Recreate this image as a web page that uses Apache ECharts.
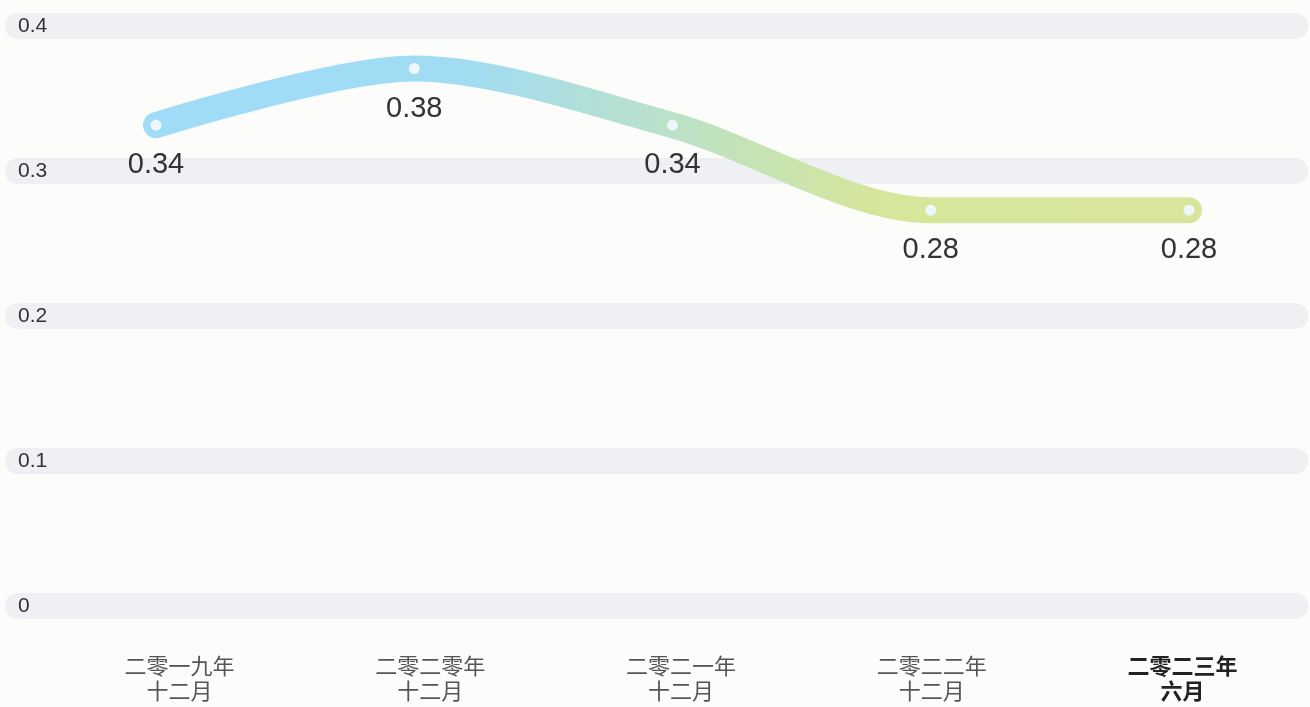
<!DOCTYPE html>
<html>
<head>
<meta charset="utf-8">
<script src="https://cdn.jsdelivr.net/npm/echarts@6/dist/echarts.min.js"></script>
<style>
  html, body { margin: 0; padding: 0; background: #fcfcfb; }
  #chart { width: 1310px; height: 707px; }
</style>
</head>
<body>
<div id="chart"></div>
<script>
  // 数据
  var categories = ['二零一九年\n十二月', '二零二零年\n十二月', '二零二一年\n十二月', '二零二二年\n十二月', '二零二三年\n六月'];
  var values = [0.34, 0.38, 0.34, 0.28, 0.28];
  var yTicks = [0, 0.1, 0.2, 0.3, 0.4];

  var fontFamily = "'Liberation Sans', 'Noto Sans CJK SC', sans-serif";
  var myChart = echarts.init(document.getElementById('chart'));

  var option = {
    backgroundColor: '#fcfcfb',
    grid: [
      // 背景条 + y轴文字
      { left: 18, right: 15, top: 26, bottom: 101 },
      // x轴文字
      { left: 54, right: 2, top: 26, bottom: 101 },
      // 折线
      { left: 156, right: 121, top: 26, bottom: 100 }
    ],
    xAxis: [
      { gridIndex: 0, type: 'category', data: categories, show: false },
      {
        gridIndex: 1, type: 'category', data: categories, boundaryGap: true,
        axisLine: { show: false }, axisTick: { show: false },
        axisLabel: {
          margin: 49, color: '#555', fontSize: 22, lineHeight: 25, fontFamily: fontFamily,
          formatter: function (v, i) {
            return i === categories.length - 1 ? '{b|' + v + '}' : v;
          },
          rich: {
            b: { color: '#222', fontWeight: 'bold', fontSize: 22, lineHeight: 25, fontFamily: fontFamily }
          }
        }
      },
      { gridIndex: 2, type: 'category', data: categories, boundaryGap: false, show: false }
    ],
    yAxis: [
      {
        gridIndex: 0, type: 'value', min: yTicks[0], max: yTicks[yTicks.length - 1], interval: 0.1,
        axisLine: { show: false }, axisTick: { show: false },
        axisLabel: { inside: true, margin: 0, color: '#333', fontSize: 21, fontFamily: fontFamily },
        splitLine: { show: true, lineStyle: { color: '#eff0f3', width: 26, cap: 'round' } }
      },
      { gridIndex: 1, type: 'value', min: 0, max: 0.4, show: false },
      { gridIndex: 2, type: 'value', min: 0, max: 0.41, show: false }
    ],
    series: [{
      type: 'line',
      xAxisIndex: 2,
      yAxisIndex: 2,
      data: values,
      smooth: 0.3,
      symbol: 'circle',
      symbolSize: 11,
      itemStyle: { color: '#eef7fc' },
      lineStyle: {
        width: 26,
        cap: 'round',
        join: 'round',
        color: new echarts.graphic.LinearGradient(0, 0, 1, 0, [
          { offset: 0, color: '#a0dcf7' },
          { offset: 0.3, color: '#a1dcf4' },
          { offset: 0.7, color: '#d6e69a' },
          { offset: 1, color: '#d7e69b' }
        ])
      },
      label: {
        show: true,
        position: 'bottom',
        distance: 20,
        color: '#333',
        fontSize: 29,
        fontFamily: fontFamily
      }
    }]
  };

  myChart.setOption(option);
</script>
</body>
</html>
